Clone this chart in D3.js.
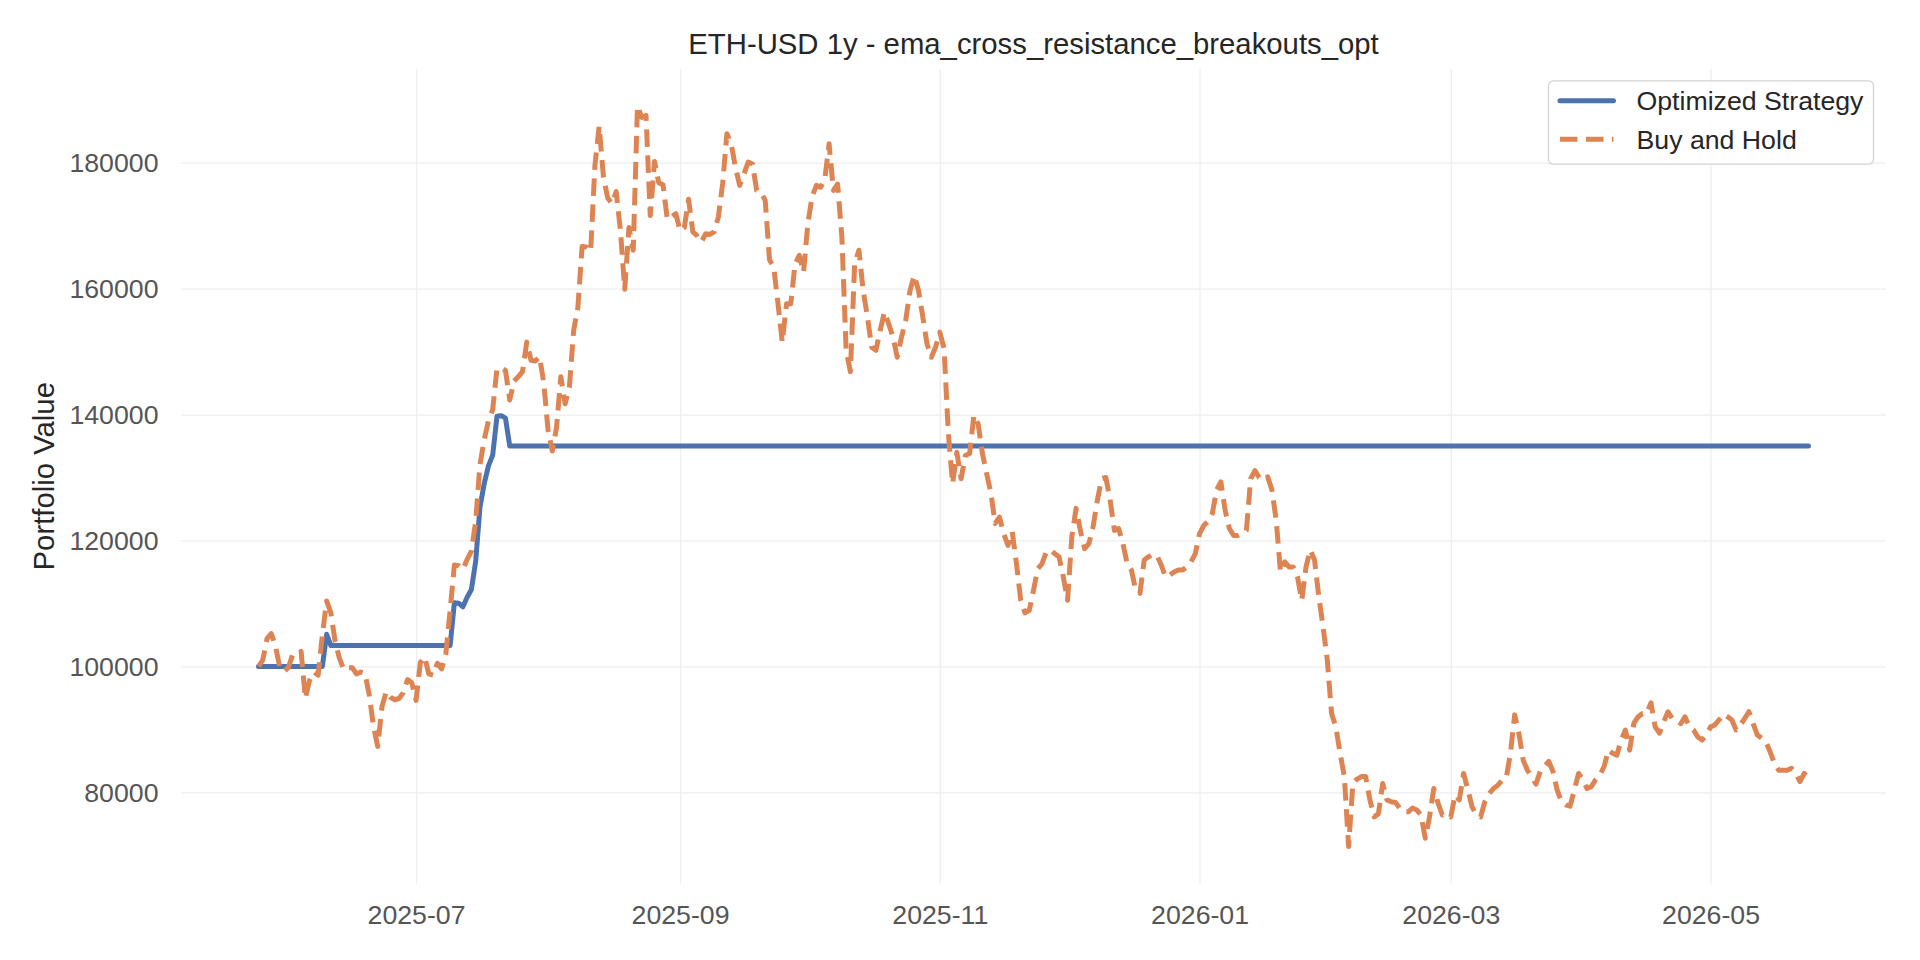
<!DOCTYPE html>
<html>
<head>
<meta charset="utf-8">
<script src="https://cdn.jsdelivr.net/npm/d3@7"></script>
<style>
  body { margin: 0; background: #ffffff; }
  svg { display: block; }
  text { font-family: "Liberation Sans", Arial, Helvetica, sans-serif; }
</style>
</head>
<body>
<svg id="chart" width="1920" height="960"></svg>
<script>
// ---------------- DATA ----------------
const startDate = "2025-05-25";   // first daily observation

// Buy and Hold portfolio value (daily)
const buyHold = [
  100000,101000,104400,105200,103200,99800,99200,99800,101800,101800,
  102400,94900,97800,99100,98600,105000,110400,108500,103900,101300,
  99500,99800,99800,98800,99100,98900,95500,90500,87300,93600,
  96000,95100,94700,94900,95800,97900,97400,94600,100600,101500,
  98800,98600,100500,99600,102000,108900,116100,116000,115400,117000,
  118300,123000,132000,136000,139000,140800,147300,147400,147000,142300,
  145300,146000,146800,151500,148600,148500,149200,145000,137500,134200,
  138000,146000,141700,144300,153300,157000,166700,166600,165900,179500,
  185800,177800,174400,173500,175400,169200,159900,169700,166100,189000,
  187200,187500,171600,180200,176800,176500,171000,171400,171900,169200,
  169700,174200,169000,168400,167400,168700,168600,169000,171400,176700,
  184600,183000,179300,176400,178200,180100,179800,175600,175300,174000,
  164600,163400,157600,151500,157600,157600,163900,165300,162600,170300,
  174600,176400,176100,177400,183000,175600,176600,168200,150200,146800,
  164000,166100,159700,155500,150700,150200,153400,156300,154400,152300,
  149100,152300,155000,159700,162100,159700,155500,151200,149100,150700,
  153100,150500,137000,129000,134000,129800,133500,133800,139900,138500,
  133800,130600,127500,122700,123700,121100,119200,121400,116300,110500,
  108500,108900,112100,115500,116300,118200,118500,117900,117400,114200,
  110500,120600,125100,121600,118700,119500,122200,126400,129800,130000,
  126400,121600,121900,119500,116300,115300,112100,111600,116900,117400,
  117800,117600,116100,114200,114500,115000,115300,115300,115800,116600,
  117900,121100,122400,123000,124300,128000,129300,124800,121900,120800,
  120800,121100,121600,129800,131100,130000,129600,130100,128000,123200,
  115000,116600,115800,115800,114200,110500,115800,118500,116900,111100,
  106300,101000,92500,90400,86200,82500,71400,81400,82100,82500,
  82500,78800,76100,76600,81400,78800,78500,78400,77500,76900,
  76900,77500,77200,76400,72700,76100,80600,78300,76400,76600,
  76100,79600,78800,83000,80400,77700,76400,76100,78500,79800,
  80600,81100,81900,82200,86200,92300,89300,85100,83500,82500,
  81300,83300,84100,84900,83300,80300,78500,78000,77800,80300,
  83000,82000,80600,80900,82000,82700,84100,86700,86200,85900,
  88300,89900,86700,91000,92000,92500,92500,94200,90400,89400,
  91200,92800,91700,91500,90900,92000,90400,89900,88800,88300,
  89100,90400,90700,91500,92400,92000,91500,89900,90700,91700,
  92800,90900,89100,88600,88000,86400,84600,83500,83500,83500,
  83800,83000,81700,83000,82200
];

// Optimized Strategy portfolio value (daily)
const strategy = [
  100000,100000,100000,100000,100000,100000,100000,100000,100000,100000,
  100000,100000,100000,100000,100000,100000,105100,103300,103300,103300,
  103300,103300,103300,103300,103300,103300,103300,103300,103300,103300,
  103300,103300,103300,103300,103300,103300,103300,103300,103300,103300,
  103300,103300,103300,103300,103300,103300,110100,110040,109470,110980,
  112220,116670,125210,129010,131850,133560,139720,139820,139440,135000,
  135000,135000,135000,135000,135000,135000,135000,135000,135000,135000,
  135000,135000,135000,135000,135000,135000,135000,135000,135000,135000,
  135000,135000,135000,135000,135000,135000,135000,135000,135000,135000,
  135000,135000,135000,135000,135000,135000,135000,135000,135000,135000,
  135000,135000,135000,135000,135000,135000,135000,135000,135000,135000,
  135000,135000,135000,135000,135000,135000,135000,135000,135000,135000,
  135000,135000,135000,135000,135000,135000,135000,135000,135000,135000,
  135000,135000,135000,135000,135000,135000,135000,135000,135000,135000,
  135000,135000,135000,135000,135000,135000,135000,135000,135000,135000,
  135000,135000,135000,135000,135000,135000,135000,135000,135000,135000,
  135000,135000,135000,135000,135000,135000,135000,135000,135000,135000,
  135000,135000,135000,135000,135000,135000,135000,135000,135000,135000,
  135000,135000,135000,135000,135000,135000,135000,135000,135000,135000,
  135000,135000,135000,135000,135000,135000,135000,135000,135000,135000,
  135000,135000,135000,135000,135000,135000,135000,135000,135000,135000,
  135000,135000,135000,135000,135000,135000,135000,135000,135000,135000,
  135000,135000,135000,135000,135000,135000,135000,135000,135000,135000,
  135000,135000,135000,135000,135000,135000,135000,135000,135000,135000,
  135000,135000,135000,135000,135000,135000,135000,135000,135000,135000,
  135000,135000,135000,135000,135000,135000,135000,135000,135000,135000,
  135000,135000,135000,135000,135000,135000,135000,135000,135000,135000,
  135000,135000,135000,135000,135000,135000,135000,135000,135000,135000,
  135000,135000,135000,135000,135000,135000,135000,135000,135000,135000,
  135000,135000,135000,135000,135000,135000,135000,135000,135000,135000,
  135000,135000,135000,135000,135000,135000,135000,135000,135000,135000,
  135000,135000,135000,135000,135000,135000,135000,135000,135000,135000,
  135000,135000,135000,135000,135000,135000,135000,135000,135000,135000,
  135000,135000,135000,135000,135000,135000,135000,135000,135000,135000,
  135000,135000,135000,135000,135000,135000,135000,135000,135000,135000,
  135000,135000,135000,135000,135000,135000,135000,135000,135000,135000,
  135000,135000,135000,135000,135000
];

const yTickValues = [80000, 100000, 120000, 140000, 160000, 180000];
const xTickDates  = ["2025-07-01", "2025-09-01", "2025-11-01", "2026-01-01", "2026-03-01", "2026-05-01"];
const seriesNames = ["Optimized Strategy", "Buy and Hold"];
const seriesColors = ["#4c72b0", "#dd8452"];
const titleText = "ETH-USD 1y - ema_cross_resistance_breakouts_opt";
const yLabelText = "Portfolio Value";

// ---------------- LAYOUT ----------------
const plot = { left: 181, right: 1886, top: 69, bottom: 883.5 };
const svg = d3.select("#chart");
svg.append("rect").attr("width", 1920).attr("height", 960).attr("fill", "#ffffff");

const parse = d3.utcParse("%Y-%m-%d");
const t0 = parse(startDate);
const dates = buyHold.map((_, i) => d3.utcDay.offset(t0, i));

const tMin = +dates[0], tMax = +dates[dates.length - 1];
const tPad = (tMax - tMin) * 0.05;
const x = d3.scaleUtc()
  .domain([new Date(tMin - tPad), new Date(tMax + tPad)])
  .range([plot.left, plot.right]);

const allVals = buyHold.concat(strategy);
const vMin = d3.min(allVals), vMax = d3.max(allVals);
const vPad = (vMax - vMin) * 0.05;
const y = d3.scaleLinear()
  .domain([vMin - vPad, vMax + vPad])
  .range([plot.bottom, plot.top]);

// ---------------- GRID + AXES ----------------
const gridColor = "#eeeeee";
const tickColor = "#555555";

const yAxis = d3.axisLeft(y)
  .tickValues(yTickValues)
  .tickFormat(d3.format("d"))
  .tickSizeInner(-(plot.right - plot.left))
  .tickSizeOuter(0)
  .tickPadding(22.5);
const gy = svg.append("g").attr("transform", `translate(${plot.left},0)`).call(yAxis);
gy.select(".domain").remove();
gy.selectAll(".tick line").attr("stroke", gridColor).attr("stroke-width", 1.3);
gy.selectAll(".tick text")
  .attr("fill", tickColor)
  .attr("font-size", "26.7px")
  .attr("dy", "0.34em")
  .style("font-family", '"Liberation Sans", Arial, sans-serif');

const xAxis = d3.axisBottom(x)
  .tickValues(xTickDates.map(parse))
  .tickFormat(d3.utcFormat("%Y-%m"))
  .tickSizeInner(-(plot.bottom - plot.top))
  .tickSizeOuter(0)
  .tickPadding(21.5);
const gx = svg.append("g").attr("transform", `translate(0,${plot.bottom})`).call(xAxis);
gx.select(".domain").remove();
gx.selectAll(".tick line").attr("stroke", gridColor).attr("stroke-width", 1.3);
gx.selectAll(".tick text")
  .attr("fill", tickColor)
  .attr("font-size", "26.7px")
  .style("font-family", '"Liberation Sans", Arial, sans-serif');

// ---------------- LINES ----------------
const line = d3.line()
  .x((d, i) => x(dates[i]))
  .y(d => y(d));

svg.append("path")
  .datum(strategy)
  .attr("d", line)
  .attr("fill", "none")
  .attr("stroke", seriesColors[0])
  .attr("stroke-width", 5)
  .attr("stroke-linejoin", "round")
  .attr("stroke-linecap", "round");

svg.append("path")
  .datum(buyHold)
  .attr("d", line)
  .attr("fill", "none")
  .attr("stroke", seriesColors[1])
  .attr("stroke-width", 5)
  .attr("stroke-linejoin", "round")
  .attr("stroke-linecap", "butt")
  .attr("stroke-dasharray", "17.5,8.5");

// ---------------- TITLE + LABEL ----------------
svg.append("text")
  .attr("x", (plot.left + plot.right) / 2)
  .attr("y", 53.5)
  .attr("text-anchor", "middle")
  .attr("font-size", "29.3px")
  .attr("fill", "#262626")
  .text(titleText);

svg.append("text")
  .attr("transform", `translate(54,${(plot.top + plot.bottom) / 2}) rotate(-90)`)
  .attr("text-anchor", "middle")
  .attr("font-size", "29.3px")
  .attr("fill", "#262626")
  .text(yLabelText);

// ---------------- LEGEND ----------------
const lg = svg.append("g");
lg.append("rect")
  .attr("x", 1548.5).attr("y", 80.8)
  .attr("width", 325).attr("height", 83.4)
  .attr("rx", 5).attr("ry", 5)
  .attr("fill", "#ffffff").attr("fill-opacity", 0.8)
  .attr("stroke", "#d4d4d4").attr("stroke-width", 1.3);

const rowsY = [100.8, 139.2];
seriesNames.forEach((name, i) => {
  const l = lg.append("line")
    .attr("x1", 1560).attr("x2", 1613.5)
    .attr("y1", rowsY[i]).attr("y2", rowsY[i])
    .attr("stroke", seriesColors[i])
    .attr("stroke-width", 5);
  if (i === 0) {
    l.attr("stroke-linecap", "round");
  } else {
    l.attr("stroke-linecap", "butt").attr("stroke-dasharray", "17.5,8.5");
  }
  lg.append("text")
    .attr("x", 1636.5)
    .attr("y", rowsY[i] + 9.6)
    .attr("font-size", "26.7px")
    .attr("fill", "#262626")
    .text(name);
});
</script>
</body>
</html>
